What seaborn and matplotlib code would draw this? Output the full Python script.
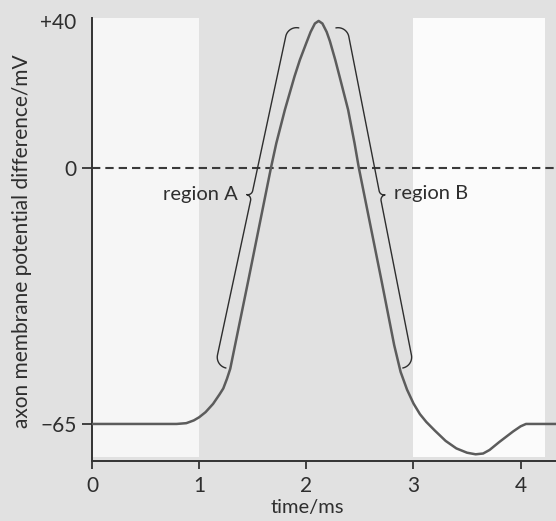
import numpy as np
import pandas as pd
import seaborn as sns
import matplotlib
matplotlib.use("Agg")
import matplotlib.pyplot as plt

# Action potential trace: time (ms) and axon membrane potential (mV)
time_ms = [0.0, 0.79, 0.88, 0.95, 1.0, 1.06, 1.13, 1.19, 1.225, 1.26, 1.29,
           1.46, 1.67, 1.72, 1.80, 1.89, 1.94, 2.0, 2.04, 2.08, 2.115,
           2.15, 2.19, 2.22, 2.27, 2.31, 2.39, 2.45, 2.49, 2.70, 2.82,
           2.88, 2.94, 3.0, 3.06, 3.12, 3.2, 3.3, 3.4, 3.5, 3.58, 3.65,
           3.71, 3.8, 3.93, 4.0, 4.05, 4.33]
potential_mv = [-65, -65, -64.8, -64.1, -63.3, -62.0, -59.9, -57.5, -56.0, -53.5, -51.0,
                -28.4, 0, 6.7, 15.8, 24.9, 29.4, 34, 37.0, 39.3, 40,
                39.3, 37.0, 34.5, 29.4, 24.9, 15.8, 6.7, 0, -28.4, -45.0,
                -51.8, -56.3, -59.8, -62.5, -64.5, -66.7, -69.3, -71.2, -72.3, -72.7, -72.5,
                -71.6, -69.6, -66.9, -65.6, -65, -65]

x_ticks = [0, 1, 2, 3, 4]
x_tick_labels = ["0", "1", "2", "3", "4"]
y_ticks = [-65, 0]
y_tick_labels = ["\u221265", "0"]
y_top_tick = 40
y_top_label = "+40"

# periods shown on a lighter background
light_periods = [(0, 1), (3, 4.23)]

# curly braces marking the rising and falling phases (start tip, end tip)
brace_a = ((1.25, -50.8), (1.93, 38.1))
brace_b = ((2.276, 38.1), (2.90, -50.8))
label_a = (1.36, -6.9, "region A")
label_b = (2.82, -6.6, "region B")

df = pd.DataFrame({"time": time_ms, "potential": potential_mv})

sns.set_theme(style="white")
plt.rcParams["font.family"] = ["Lato", "DejaVu Sans"]

bg = "#e1e1e1"
ink = "#2e2e2e"

fig = plt.figure(figsize=(5.56, 5.21), dpi=100, facecolor=bg)
ax = fig.add_axes([92 / 556, 60 / 521, 464 / 556, 443 / 521])
ax.set_facecolor(bg)

# the positive part of the voltage axis is drawn slightly compressed
k = 3.67 / 3.94
ax.set_yscale("function",
              functions=(lambda y: np.where(y > 0, y * k, y),
                         lambda y: np.where(y > 0, y / k, y)))
ax.set_xlim(0, 4.33)
ax.set_ylim(-74.4, 40.8)

for start, end in light_periods:
    ax.axvspan(start, end, ymin=0.01, ymax=1.0,
               color="#f6f6f6" if start == 0 else "#fbfbfb", lw=0, zorder=0)

ax.axhline(0, color="#3a3a3a", lw=1.5, dashes=(4, 2.4), zorder=1)

sns.lineplot(data=df, x="time", y="potential", ax=ax, sort=False, estimator=None,
             color="#5c5c5c", lw=1.8, zorder=3)


def curly_brace(ax, p_start, p_end, hook=11.0, cusp=5.0, **kw):
    T = ax.transData
    a = np.asarray(T.transform(p_start), float)
    b = np.asarray(T.transform(p_end), float)
    d = b - a
    L = np.hypot(*d)
    u = d / L
    n = np.array([-u[1], u[0]])
    th = np.linspace(0, np.pi / 2, 24)
    hook_u = hook - hook * np.cos(th)
    hook_v = hook * np.sin(th)
    ct = np.linspace(-np.pi / 2, 0, 12)
    cusp_u = (L / 2 - cusp) + cusp * np.cos(ct)
    cusp_v = (hook + cusp) + cusp * np.sin(ct)
    hu = np.concatenate([hook_u, cusp_u])
    hv = np.concatenate([hook_v, cusp_v])
    fu = np.concatenate([hu, L - hu[::-1]])
    fv = np.concatenate([hv, hv[::-1]])
    pts = a + np.outer(fu, u) + np.outer(fv, n)
    data = T.inverted().transform(pts)
    ax.plot(data[:, 0], data[:, 1], **kw)


curly_brace(ax, *brace_a, color=ink, lw=1.0, zorder=2)
curly_brace(ax, *brace_b, color=ink, lw=1.0, zorder=2)

ax.text(label_a[0], label_a[1], label_a[2], ha="right", va="center",
        fontsize=14.5, color=ink)
ax.text(label_b[0], label_b[1], label_b[2], ha="left", va="center",
        fontsize=14.5, color=ink)

# axes, ticks, labels
for side in ("top", "right"):
    ax.spines[side].set_visible(False)
for side in ("left", "bottom"):
    ax.spines[side].set_visible(True)
    ax.spines[side].set_color("#333333")
    ax.spines[side].set_linewidth(1.4)

ax.set_xticks(x_ticks)
ax.set_xticklabels(x_tick_labels)
ax.set_yticks(y_ticks)
ax.set_yticklabels(y_tick_labels)
ax.set_yticks([y_top_tick], minor=True)
ax.set_yticklabels([y_top_label], minor=True)

ax.tick_params(axis="x", which="major", direction="out", length=6, width=1.3,
               color="#333333", pad=5, labelsize=15, labelcolor=ink, bottom=True)
ax.tick_params(axis="y", which="major", direction="out", length=7.5, width=1.3,
               color="#333333", pad=3.5, labelsize=15, labelcolor=ink, left=True)
ax.tick_params(axis="y", which="minor", length=0, pad=11, labelsize=15,
               labelcolor=ink, left=True)

ax.set_xlabel("time/ms", fontsize=14.5, color=ink, va="center")
ax.xaxis.set_label_coords(0.464, -0.104)
ax.set_ylabel("axon membrane potential difference/mV", fontsize=15, color=ink,
              va="center")
ax.yaxis.set_label_coords(-0.151, 0.4955)

fig.savefig("out.png", dpi=100, facecolor=bg)
